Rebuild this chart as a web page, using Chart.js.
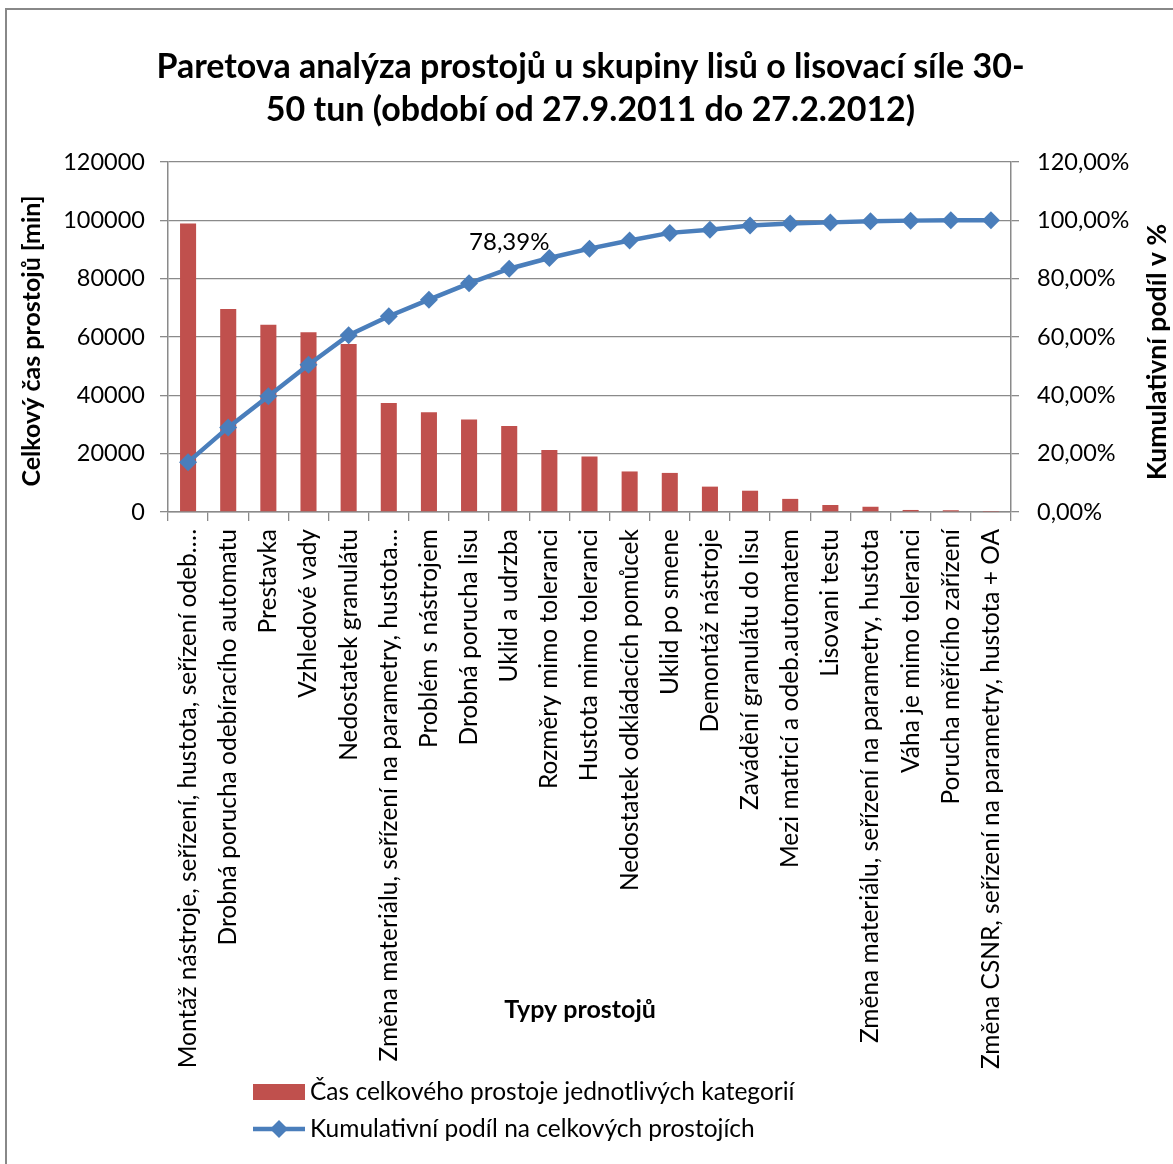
<!DOCTYPE html>
<html lang="cs">
<head>
<meta charset="utf-8">
<title>Paretova analýza prostojů</title>
<script src="https://cdn.jsdelivr.net/npm/chart.js@4.4.1/dist/chart.umd.min.js"></script>
<style>
  html, body { margin: 0; padding: 0; background: #fff; }
  #wrap { position: relative; width: 1173px; height: 1164px; }
  #frame { position: absolute; left: 5px; top: 8px; right: 0; bottom: 0;
           border-left: 2px solid #888; border-top: 2px solid #888; pointer-events: none; }
</style>
</head>
<body>
<div id="wrap">
  <canvas id="chart" width="1173" height="1164"></canvas>
  <div id="frame"></div>
</div>
<script>
// downtime categories (as shown on the x axis, long ones are cut like in the original)
const categories = [
  'Montáž nástroje, seřízení, hustota, seřízení odeb.…',
  'Drobná porucha odebíracího automatu',
  'Prestavka',
  'Vzhledové vady',
  'Nedostatek granulátu',
  'Změna materiálu, seřízení na parametry, hustota…',
  'Problém s nástrojem',
  'Drobná porucha lisu',
  'Uklid a udrzba',
  'Rozměry mimo toleranci',
  'Hustota mimo toleranci',
  'Nedostatek odkládacích pomůcek',
  'Uklid po smene',
  'Demontáž nástroje',
  'Zavádění granulátu do lisu',
  'Mezi matricí a odeb.automatem',
  'Lisovani testu',
  'Změna materiálu, seřízení na parametry, hustota',
  'Váha je mimo toleranci',
  'Porucha měřícího zařízení',
  'Změna CSNR, seřízení na parametry, hustota + OA'
];

// total downtime per category [min]
const downtimeMinutes = [98900, 69600, 64200, 61600, 57600, 37400, 34200, 31700, 29500, 21300,
                         19000, 13900, 13400, 8700, 7300, 4500, 2400, 1800, 700, 600, 100];

// cumulative share [%]
const cumulativeShare = [17.1, 29.0, 39.7, 50.5, 60.6, 67.1, 72.8, 78.39, 83.4, 87.1,
                         90.3, 93.1, 95.7, 96.8, 98.2, 98.9, 99.3, 99.7, 99.9, 100, 100];

const titleLines = ['Paretova analýza prostojů u skupiny lisů o lisovací síle 30-',
                    '50 tun (období od 27.9.2011 do 27.2.2012)'];
const leftAxisTitle = 'Celkový čas prostojů [min]';
const rightAxisTitle = 'Kumulativní podíl v %';
const xAxisTitle = 'Typy prostojů';
const seriesNames = ['Čas celkového prostoje jednotlivých kategorií',
                     'Kumulativní podíl na celkových prostojích'];
const labelledPoint = 7; // only this point carries a data label

const fontFamily = 'Lato, "DejaVu Sans", sans-serif';
const gridColor = '#8a8a8a';
const barColor = '#C0504D';
const lineColor = '#4A7EBB';

Chart.defaults.color = '#000';
Chart.defaults.font.family = fontFamily;

const fmtPercent = v => v.toFixed(2).replace('.', ',') + '%';

// axis titles, data label and legend drawn like Excel places them
const extras = {
  id: 'extras',
  afterDraw(chart) {
    const { ctx, chartArea } = chart;
    const midY = (chartArea.top + chartArea.bottom) / 2;
    ctx.save();
    ctx.fillStyle = '#000';
    ctx.textAlign = 'center';
    ctx.textBaseline = 'middle';

    ctx.font = 'bold 25px ' + fontFamily;
    ctx.save();
    ctx.translate(32, midY + 4);
    ctx.rotate(-Math.PI / 2);
    ctx.fillText(leftAxisTitle, 0, 0);
    ctx.restore();

    ctx.font = 'bold 26.5px ' + fontFamily;
    ctx.save();
    ctx.translate(chartArea.right + 146, midY + 15);
    ctx.rotate(-Math.PI / 2);
    ctx.fillText(rightAxisTitle, 0, 0);
    ctx.restore();

    ctx.font = 'bold 25px ' + fontFamily;
    ctx.fillText(xAxisTitle, 580, 1010);

    // data label
    const pt = chart.getDatasetMeta(1).data[labelledPoint];
    ctx.font = '24px ' + fontFamily;
    ctx.textAlign = 'left';
    ctx.fillText(fmtPercent(cumulativeShare[labelledPoint]), pt.x, pt.y - 41);

    // legend
    const lx = 253, ly1 = 1092, ly2 = 1129;
    ctx.fillStyle = barColor;
    ctx.fillRect(lx, ly1 - 8, 52, 16);
    ctx.strokeStyle = lineColor;
    ctx.lineWidth = 4.5;
    ctx.beginPath();
    ctx.moveTo(lx, ly2);
    ctx.lineTo(lx + 52, ly2);
    ctx.stroke();
    ctx.fillStyle = lineColor;
    ctx.beginPath();
    ctx.moveTo(lx + 26, ly2 - 9);
    ctx.lineTo(lx + 35, ly2);
    ctx.lineTo(lx + 26, ly2 + 9);
    ctx.lineTo(lx + 17, ly2);
    ctx.closePath();
    ctx.fill();
    ctx.fillStyle = '#000';
    ctx.font = '24.5px ' + fontFamily;
    ctx.fillText(seriesNames[0], lx + 57, ly1);
    ctx.fillText(seriesNames[1], lx + 57, ly2);
    ctx.restore();
  }
};

new Chart(document.getElementById('chart'), {
  type: 'bar',
  data: {
    labels: categories,
    datasets: [
      {
        type: 'bar',
        label: seriesNames[0],
        data: downtimeMinutes,
        backgroundColor: barColor,
        barPercentage: 0.4,
        categoryPercentage: 1,
        yAxisID: 'y',
        order: 1
      },
      {
        type: 'line',
        label: seriesNames[1],
        data: cumulativeShare,
        borderColor: lineColor,
        backgroundColor: lineColor,
        borderWidth: 4.5,
        pointStyle: 'rectRot',
        pointRadius: 9,
        pointBorderWidth: 0,
        tension: 0,
        yAxisID: 'y1',
        order: 0
      }
    ]
  },
  options: {
    responsive: false,
    animation: false,
    layout: { padding: { left: 8, right: 0, top: 0, bottom: 0 } },
    plugins: {
      legend: { display: false },
      tooltip: { enabled: false },
      title: {
        display: true,
        text: titleLines,
        font: { size: 34, weight: 'bold', lineHeight: 43 / 34 },
        color: '#000',
        padding: { top: 46, bottom: 30 }
      }
    },
    scales: {
      x: {
        afterFit: s => { s.height = 652; },
        grid: { drawOnChartArea: false, drawTicks: true, tickLength: 9, color: gridColor, lineWidth: 1.3, offset: true },
        border: { color: gridColor, width: 1.5 },
        ticks: { autoSkip: false, minRotation: 90, maxRotation: 90, padding: 8, font: { size: 24.5 } }
      },
      y: {
        position: 'left',
        min: 0, max: 120000,
        afterFit: s => { s.width = 160; },
        grid: { color: gridColor, lineWidth: 1.3, tickLength: 8 },
        border: { color: gridColor, width: 1.5 },
        ticks: { stepSize: 20000, padding: 15, font: { size: 23.5 }, callback: v => String(v) }
      },
      y1: {
        position: 'right',
        min: 0, max: 120,
        afterFit: s => { s.width = 162; },
        grid: { drawOnChartArea: false, color: gridColor, lineWidth: 1.3, tickLength: 8 },
        border: { color: gridColor, width: 1.5 },
        ticks: { stepSize: 20, padding: 18, font: { size: 23.5 }, callback: v => fmtPercent(v) }
      }
    }
  },
  plugins: [extras]
});
</script>
</body>
</html>
